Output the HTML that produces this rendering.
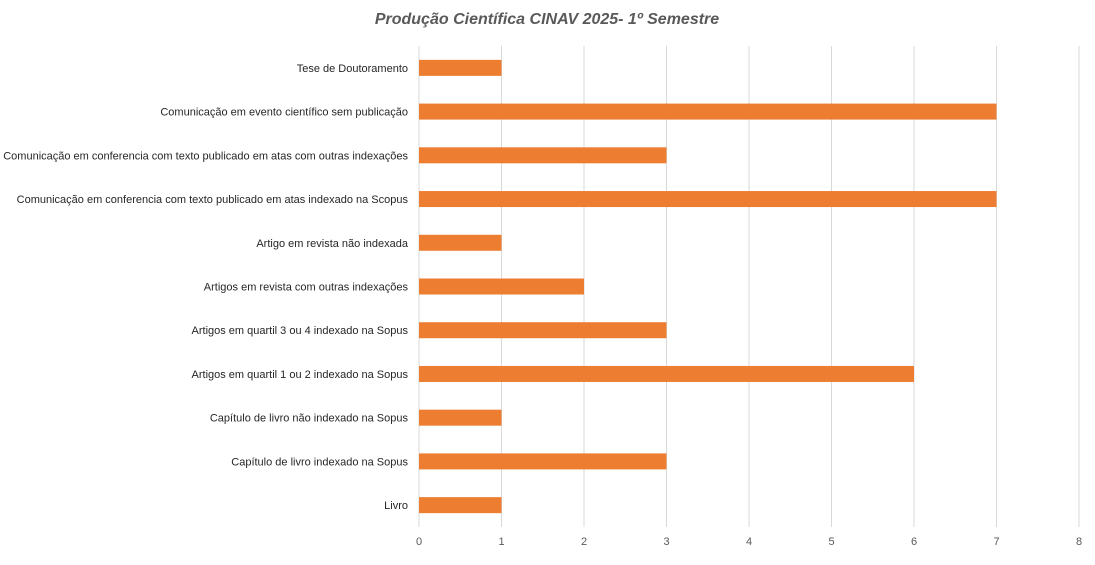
<!DOCTYPE html>
<html><head><meta charset="utf-8"><style>
body{margin:0;background:#fff;width:1095px;height:560px;overflow:hidden;font-family:"Liberation Sans",sans-serif}
</style></head><body>
<svg id="chart" width="1095" height="560" xmlns="http://www.w3.org/2000/svg">
<text x="547" y="24" text-anchor="middle" font-size="16" font-style="italic" font-weight="bold" fill="#595959" font-family="Liberation Sans, sans-serif">Produção Científica CINAV 2025- 1º Semestre</text>
<g id="grid"></g><g id="bars"></g><g id="labels"></g><g id="ticks"></g>
</svg>
<script>
const categories=["Tese de Doutoramento","Comunicação em evento científico sem publicação","Comunicação em conferencia com texto publicado em atas com outras indexações","Comunicação em conferencia com texto publicado em atas indexado na Scopus","Artigo em revista não indexada","Artigos em revista com outras indexações","Artigos em quartil 3 ou 4 indexado na Sopus","Artigos em quartil 1 ou 2 indexado na Sopus","Capítulo de livro não indexado na Sopus","Capítulo de livro indexado na Sopus","Livro"];
const values=[1,7,3,7,1,2,3,6,1,3,1];
const ticks=[0,1,2,3,4,5,6,7,8];
const NS="http://www.w3.org/2000/svg";
const x0=419,x1=1079,plotTop=46,plotBottom=527;
const xs=v=>x0+(x1-x0)*v/8;
const band=(plotBottom-plotTop)/categories.length;
const yc=i=>plotTop+band*(i+0.5);
function mk(t,a,p){const e=document.createElementNS(NS,t);for(const k in a)e.setAttribute(k,a[k]);p.appendChild(e);return e;}
const g=document.getElementById('grid'),b=document.getElementById('bars'),l=document.getElementById('labels'),tk=document.getElementById('ticks');
ticks.forEach(t=>{
 const ln=mk('line',{x1:xs(t),x2:xs(t),y1:plotTop,y2:plotBottom,stroke:'#d9d9d9','stroke-width':1},g);
 
 
 const tx=mk('text',{x:xs(t),y:545,'text-anchor':'middle','font-size':11,fill:'#595959'},tk);tx.textContent=t;
 
 
});
categories.forEach((c,i)=>{
 const r=mk('rect',{x:xs(0),y:yc(i)-8,width:xs(values[i])-xs(0),height:16,fill:'#ed7d31'},b);
 
 
 const tx=mk('text',{x:408,y:yc(i)+4,'text-anchor':'end','font-size':11,fill:'#262626'},l);tx.textContent=c;
 
 
});
</script>
</body></html>
